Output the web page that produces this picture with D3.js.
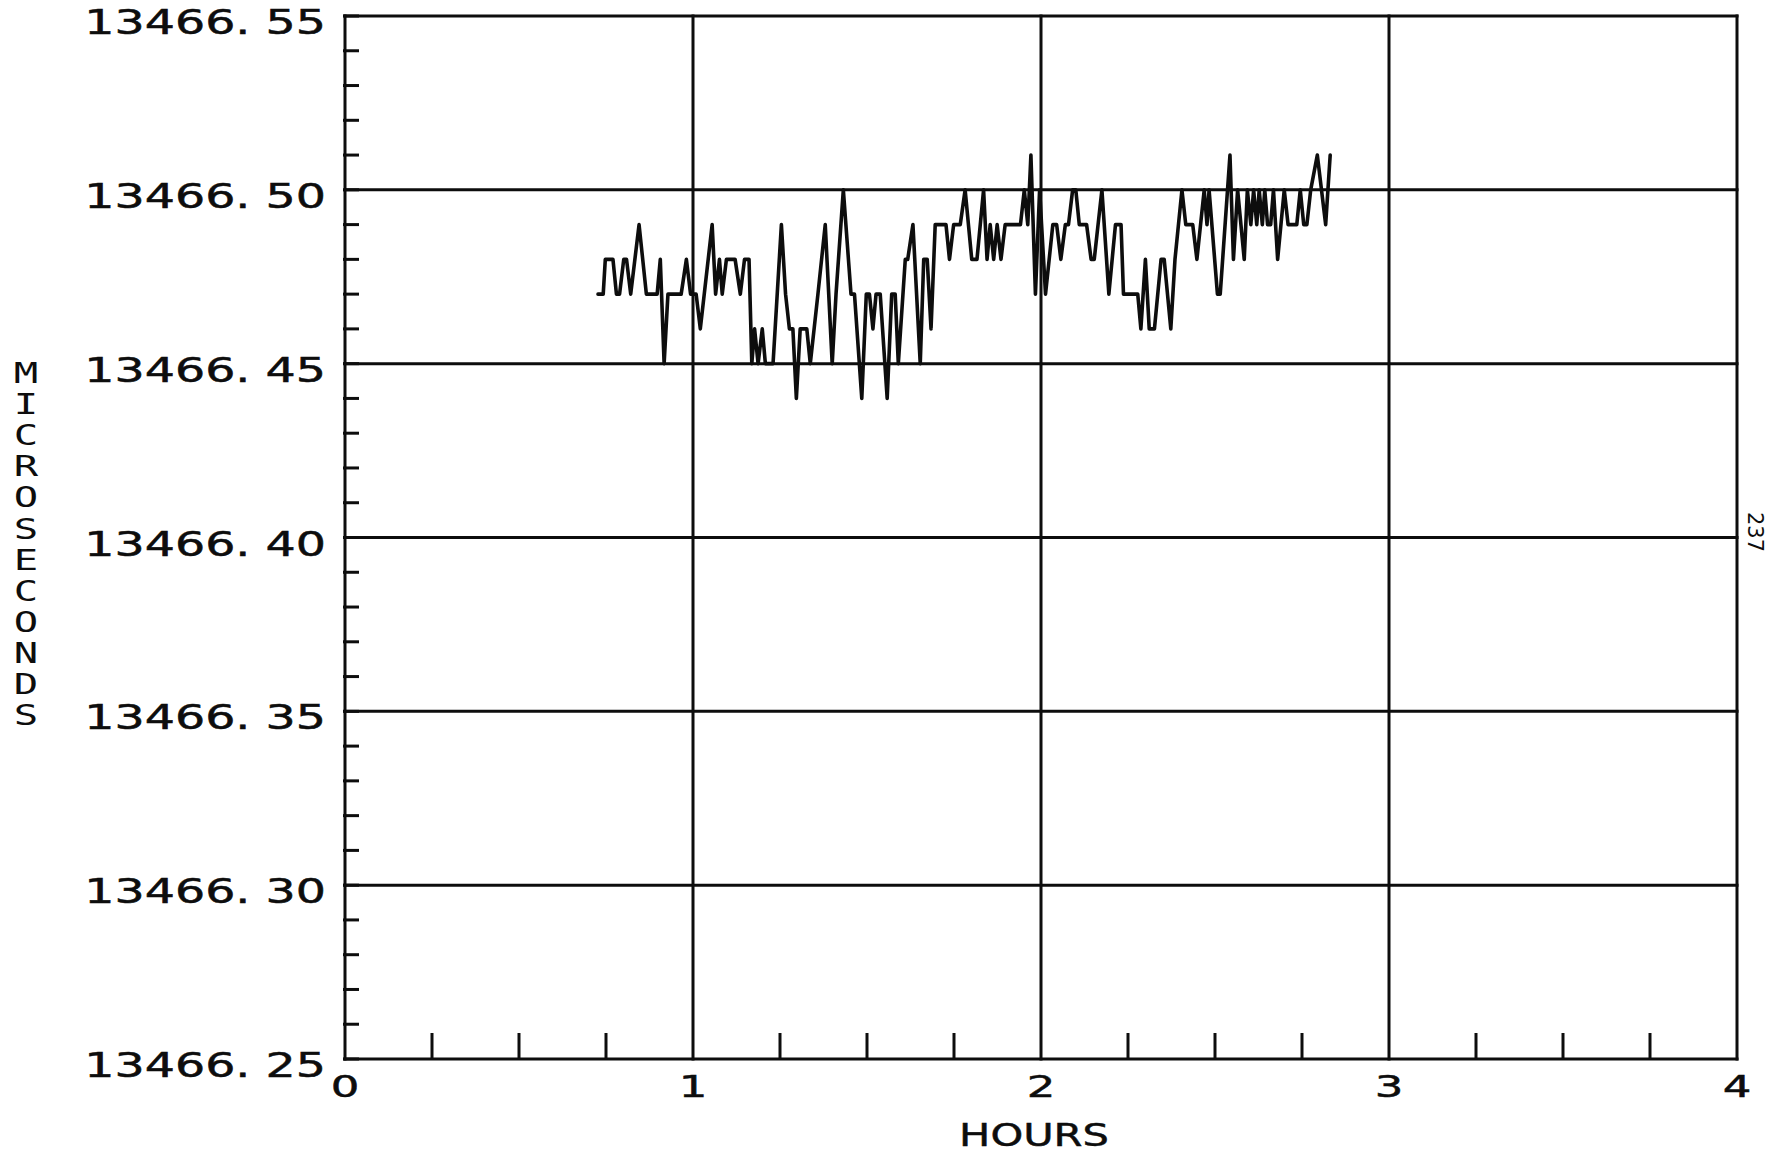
<!DOCTYPE html>
<html>
<head>
<meta charset="utf-8">
<script src="https://cdn.jsdelivr.net/npm/d3@7"></script>
<style>
  html, body { margin: 0; padding: 0; background: #fff; }
  svg { display: block; }
</style>
</head>
<body>
<svg id="chart" width="1775" height="1159"></svg>
<script>
// ---- Data (vertices of the plotted trace) ----
const hours = [
  0.727, 0.742, 0.748, 0.770, 0.780, 0.789, 0.801, 0.809, 0.821, 0.845,
  0.866, 0.897, 0.906, 0.917, 0.928, 0.966, 0.981, 0.993, 1.009, 1.021,
  1.055, 1.065, 1.076, 1.084, 1.096, 1.121, 1.136, 1.148, 1.161, 1.169,
  1.177, 1.187, 1.199, 1.208, 1.230, 1.254, 1.266, 1.277, 1.287, 1.297,
  1.308, 1.327, 1.337, 1.359, 1.380, 1.400, 1.411, 1.432, 1.454, 1.464,
  1.485, 1.498, 1.507, 1.517, 1.526, 1.538, 1.558, 1.571, 1.581, 1.590,
  1.610, 1.617, 1.632, 1.653, 1.663, 1.673, 1.684, 1.696, 1.727, 1.737,
  1.749, 1.768, 1.782, 1.801, 1.816, 1.835, 1.845, 1.854, 1.864, 1.874,
  1.885, 1.897, 1.941, 1.952, 1.962, 1.971, 1.984, 1.996, 2.013, 2.034,
  2.045, 2.057, 2.070, 2.079, 2.091, 2.100, 2.110, 2.131, 2.144, 2.153,
  2.175, 2.195, 2.214, 2.230, 2.237, 2.278, 2.287, 2.300, 2.311, 2.326,
  2.345, 2.354, 2.373, 2.385, 2.405, 2.416, 2.436, 2.448, 2.469, 2.477,
  2.483, 2.507, 2.515, 2.543, 2.553, 2.565, 2.584, 2.593, 2.603, 2.611,
  2.620, 2.627, 2.636, 2.643, 2.651, 2.660, 2.668, 2.680, 2.699, 2.710,
  2.735, 2.745, 2.755, 2.764, 2.775, 2.794, 2.818, 2.831
];
const microseconds = [
  13466.47, 13466.47, 13466.48, 13466.48, 13466.47, 13466.47, 13466.48, 13466.48, 13466.47, 13466.49,
  13466.47, 13466.47, 13466.48, 13466.45, 13466.47, 13466.47, 13466.48, 13466.47, 13466.47, 13466.46,
  13466.49, 13466.47, 13466.48, 13466.47, 13466.48, 13466.48, 13466.47, 13466.48, 13466.48, 13466.45,
  13466.46, 13466.45, 13466.46, 13466.45, 13466.45, 13466.49, 13466.47, 13466.46, 13466.46, 13466.44,
  13466.46, 13466.46, 13466.45, 13466.47, 13466.49, 13466.45, 13466.47, 13466.50, 13466.47, 13466.47,
  13466.44, 13466.47, 13466.47, 13466.46, 13466.47, 13466.47, 13466.44, 13466.47, 13466.47, 13466.45,
  13466.48, 13466.48, 13466.49, 13466.45, 13466.48, 13466.48, 13466.46, 13466.49, 13466.49, 13466.48,
  13466.49, 13466.49, 13466.50, 13466.48, 13466.48, 13466.50, 13466.48, 13466.49, 13466.48, 13466.49,
  13466.48, 13466.49, 13466.49, 13466.50, 13466.49, 13466.51, 13466.47, 13466.50, 13466.47, 13466.49,
  13466.49, 13466.48, 13466.49, 13466.49, 13466.50, 13466.50, 13466.49, 13466.49, 13466.48, 13466.48,
  13466.50, 13466.47, 13466.49, 13466.49, 13466.47, 13466.47, 13466.46, 13466.48, 13466.46, 13466.46,
  13466.48, 13466.48, 13466.46, 13466.48, 13466.50, 13466.49, 13466.49, 13466.48, 13466.50, 13466.49,
  13466.50, 13466.47, 13466.47, 13466.51, 13466.48, 13466.50, 13466.48, 13466.50, 13466.49, 13466.50,
  13466.49, 13466.50, 13466.49, 13466.50, 13466.49, 13466.49, 13466.50, 13466.48, 13466.50, 13466.49,
  13466.49, 13466.50, 13466.49, 13466.49, 13466.50, 13466.51, 13466.49, 13466.51
];

const yTickValues = [13466.25, 13466.30, 13466.35, 13466.40, 13466.45, 13466.50, 13466.55];
const yTickLabels = ["13466. 25", "13466. 30", "13466. 35", "13466. 40", "13466. 45", "13466. 50", "13466. 55"];
const xTickValues = [0, 1, 2, 3, 4];
const xTickLabels = ["0", "1", "2", "3", "4"];
const xMinorTickValues = [0.25, 0.5, 0.75, 1.25, 1.5, 1.75, 2.25, 2.5, 2.75, 3.25, 3.5, 3.75];
const xTitle = "HOURS";
const yTitle = "MICROSECONDS";
const pageNumber = "237";

// ---- Drawing ----
const svg = d3.select("#chart");
svg.append("rect").attr("width", 1775).attr("height", 1159).attr("fill", "#fff");

const x = d3.scaleLinear().domain([0, 4]).range([345, 1737]);
const y = d3.scaleLinear().domain([13466.25, 13466.55]).range([1059, 16]);

const ink = "#0d0d0d";
const gridW = 3;

// grid + frame
const g = svg.append("g").attr("stroke", ink).attr("stroke-width", gridW).attr("fill", "none");
g.selectAll("line.h").data(yTickValues).join("line")
  .attr("x1", x(0) - 1.5).attr("x2", x(4) + 1.5)
  .attr("y1", d => y(d)).attr("y2", d => y(d));
g.selectAll("line.v").data(xTickValues).join("line")
  .attr("x1", d => x(d)).attr("x2", d => x(d))
  .attr("y1", y(13466.55) - 1.5).attr("y2", y(13466.25) + 1.5);

// minor y ticks (0.01 step) on the left axis
const yMinor = y.ticks(30);
g.selectAll("line.ym").data(yMinor).join("line")
  .attr("x1", x(0) - 2).attr("x2", x(0) + 14)
  .attr("y1", d => y(d)).attr("y2", d => y(d));

// minor x ticks on the bottom axis
g.selectAll("line.xm").data(xMinorTickValues).join("line")
  .attr("x1", d => x(d)).attr("x2", d => x(d))
  .attr("y1", y(13466.25)).attr("y2", y(13466.25) - 26);

// data trace
const pts = hours.map((h, i) => [h, microseconds[i]]);
const line = d3.line().x(d => x(d[0])).y(d => y(d[1]));
svg.append("path").datum(pts)
  .attr("d", line)
  .attr("fill", "none")
  .attr("stroke", ink)
  .attr("stroke-width", 3.6)
  .attr("stroke-linejoin", "round")
  .attr("stroke-linecap", "round");

// text helper with horizontal stretch (plotter lettering is wide)
function label(px, py, str, size, sx, anchor, family, sw) {
  svg.append("text")
    .attr("transform", `translate(${px},${py}) scale(${sx},1)`)
    .attr("text-anchor", anchor)
    .attr("font-family", family || "DejaVu Sans")
    .attr("font-size", size)
    .attr("fill", ink)
    .attr("stroke", ink)
    .attr("stroke-width", sw === undefined ? 0.5 : sw)
    .text(str);
}

// y tick labels
yTickValues.forEach((v, i) => label(326, y(v) + 18, yTickLabels[i], 33, 1.44, "end"));

// x tick labels
xTickValues.forEach((v, i) => label(x(v), 1097, xTickLabels[i], 30, 1.5, "middle"));

// x title
label(1034, 1146, xTitle, 32, 1.3, "middle");

// y title: upright letters stacked vertically
yTitle.split("").forEach((ch, i) => label(26, 383 + i * 31.1, ch, 29, 1.4, "middle", "DejaVu Sans Mono", 0));

// page number, rotated
svg.append("text")
  .attr("transform", "translate(1755,532) rotate(90)")
  .attr("text-anchor", "middle")
  .attr("dominant-baseline", "central")
  .attr("font-family", "DejaVu Sans")
  .attr("font-size", 21)
  .attr("fill", ink)
  .text(pageNumber);
</script>
</body>
</html>
